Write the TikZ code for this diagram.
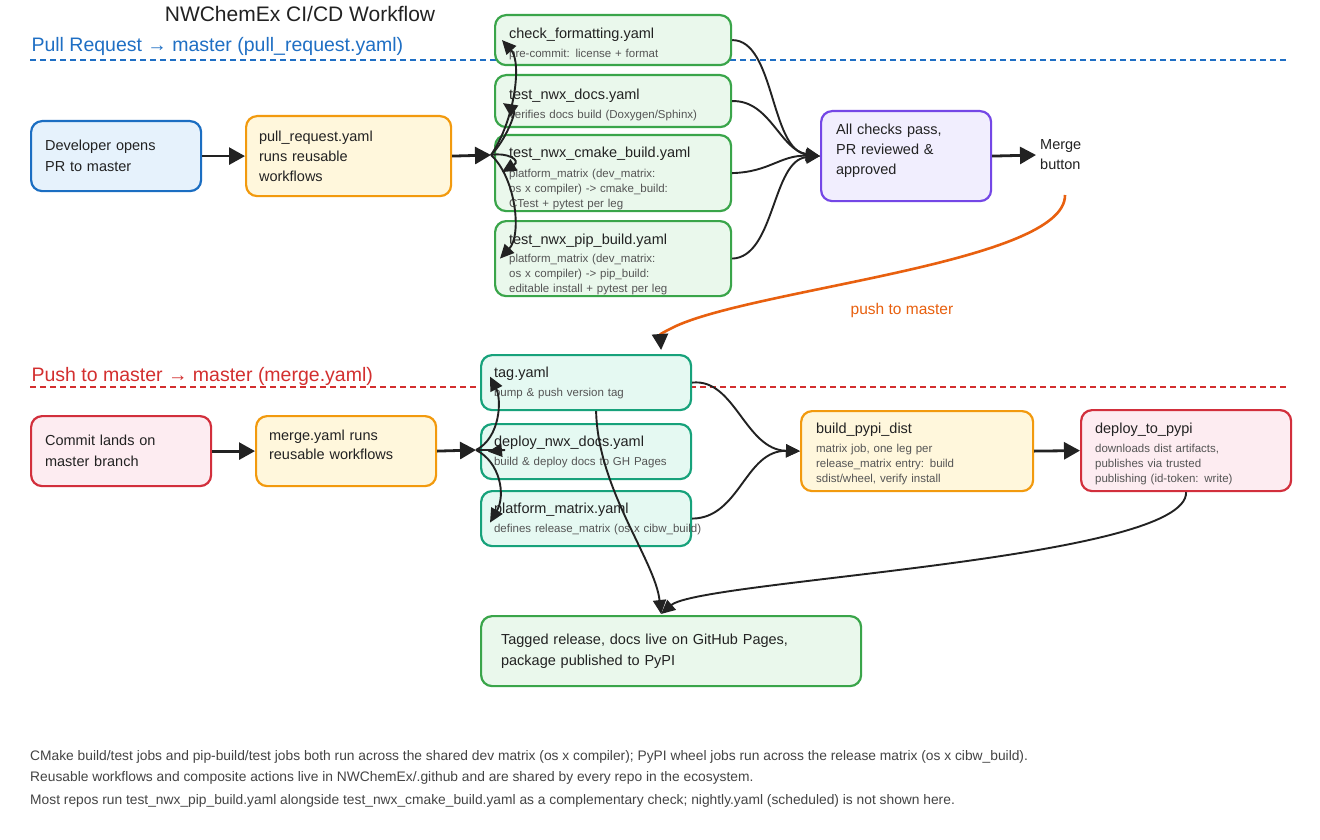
\documentclass[tikz,border=0pt]{standalone}
\usepackage{fontspec}
\setmainfont{Liberation Sans}
\usetikzlibrary{arrows.meta,calc}
\definecolor{ink}{HTML}{222222}
\definecolor{subg}{HTML}{555555}
\definecolor{footg}{HTML}{444444}
\definecolor{blueB}{HTML}{1B6EC2}
\definecolor{blueF}{HTML}{E6F2FC}
\definecolor{oranB}{HTML}{F29A0E}
\definecolor{yelF}{HTML}{FFF7DC}
\definecolor{greenB}{HTML}{3AA54A}
\definecolor{greenF}{HTML}{EAF8EC}
\definecolor{purpB}{HTML}{7447E6}
\definecolor{purpF}{HTML}{F1EEFE}
\definecolor{redB}{HTML}{D22F3C}
\definecolor{pinkF}{HTML}{FDECF1}
\definecolor{tealB}{HTML}{17A27B}
\definecolor{tealF}{HTML}{E5F9F2}
\definecolor{secBlue}{HTML}{1F6FC4}
\definecolor{secRed}{HTML}{D32F2F}
\definecolor{pushOr}{HTML}{E8600F}
\newcommand{\jobtitle}[2][0pt]{{\color{ink}\fontsize{14.5}{15}\selectfont\rule{0pt}{#1}#2}}
\newcommand{\lowpad}[1]{\rule[-#1]{0pt}{0pt}}
\tikzset{
  box/.style={draw, line width=2.2pt, rounded corners=11pt, anchor=north west,
    inner xsep=14pt, inner ysep=0pt, align=left,
    font=\fontsize{14.5}{21}\selectfont, text=ink},
  jobbox/.style={box, font=\fontsize{11.5}{15}\selectfont, text=subg},
  arr/.style={line width=2.8pt, draw=ink, -{Triangle[length=16pt,width=17pt]}},
  curv/.style={line width=1.9pt, draw=ink, -{Triangle[length=14pt,width=13pt]}},
  seclbl/.style={anchor=base west, font=\fontsize{19.5}{22}\selectfont},
  foot/.style={anchor=base west, font=\fontsize{13.8}{16}\selectfont, text=footg, inner sep=0pt},
}
\begin{document}
\begin{tikzpicture}[x=1pt,y=-1pt]
\useasboundingbox[fill=white] (0,0) rectangle (1320,840);

% title and section labels
\node[font=\fontsize{21}{24}\selectfont, text=ink] (title) at (300,14) {NWChemEx CI/CD Workflow};
\node[seclbl, text=secBlue] (secpr) at (28,52) {Pull Request → master (pull\_request.yaml)};
\node[seclbl, text=secRed] (secpush) at (28,381) {Push to master → master (merge.yaml)};
\draw[secBlue, line width=1.8pt, dash pattern=on 6pt off 4pt] (30,60) -- (1287,60);
\draw[secRed, line width=1.8pt, dash pattern=on 6pt off 4pt] (30,387) -- (1287,387);

% top row
\node[box, draw=blueB, fill=blueF, text width=142pt, minimum height=70pt] (dev) at (30,120)
  {Developer opens\\PR to master};
\node[box, draw=oranB, fill=yelF, minimum height=80pt, inner xsep=13pt, text width=179pt] (pr) at (245,115)
  {pull\_request.yaml\\[-1pt]runs reusable\\[-1pt]workflows};
\node[jobbox, draw=greenB, fill=greenF, text width=208pt, minimum height=50pt] (cf) at (494,14)
  {\jobtitle[19pt]{check\_formatting.yaml}\\[4pt]\mbox{pre-commit: license + format}};
\node[jobbox, draw=greenB, fill=greenF, text width=208pt, minimum height=52pt] (docs) at (494,74)
  {\jobtitle[18pt]{test\_nwx\_docs.yaml}\\[4pt]\mbox{verifies docs build (Doxygen/Sphinx)}};
\node[jobbox, draw=greenB, fill=greenF, text width=208pt, minimum height=76pt] (cmake) at (494,134)
  {\jobtitle[22pt]{test\_nwx\_cmake\_build.yaml}\\[5pt]\mbox{platform\_matrix (dev\_matrix:}\\\mbox{os x compiler) -> cmake\_build:}\\\mbox{CTest + pytest per leg}};
\node[jobbox, draw=greenB, fill=greenF, text width=208pt, minimum height=75pt] (pip) at (494,220)
  {\jobtitle[22pt]{test\_nwx\_pip\_build.yaml}\\[3pt]\mbox{platform\_matrix (dev\_matrix:}\\\mbox{os x compiler) -> pip\_build:}\\\mbox{editable install + pytest per leg}};
\node[box, draw=purpB, fill=purpF, text width=140pt, minimum height=90pt, inner xsep=15pt] (ac) at (820,110)
  {All checks pass,\\[-1pt]PR reviewed \&\\[-1pt]approved\lowpad{14pt}};
\node[anchor=west, align=left, inner sep=0pt, font=\fontsize{14.5}{20}\selectfont, text=ink] (mb) at (1040,155)
  {Merge\\button};

% bottom row
\node[box, draw=redB, fill=pinkF, text width=152pt, minimum height=70pt] (commit) at (30,415)
  {Commit lands on\\master branch};
\node[box, draw=oranB, fill=yelF, text width=154pt, minimum height=70pt, inner xsep=13pt] (mg) at (255,415)
  {merge.yaml runs\\[-2pt]reusable workflows\lowpad{13pt}};
\node[jobbox, draw=tealB, fill=tealF, text width=184pt, minimum height=55pt, inner xsep=13pt] (tag) at (480,354)
  {\jobtitle{tag.yaml}\\[4pt]\mbox{bump \& push version tag}};
\node[jobbox, draw=tealB, fill=tealF, text width=184pt, minimum height=55pt, inner xsep=13pt] (dd) at (480,423)
  {\jobtitle{deploy\_nwx\_docs.yaml}\\[4pt]\mbox{build \& deploy docs to GH Pages}};
\node[jobbox, draw=tealB, fill=tealF, text width=184pt, minimum height=55pt, inner xsep=13pt] (pm) at (480,490)
  {\jobtitle{platform\_matrix.yaml}\\[4pt]\mbox{defines release\_matrix (os x cibw\_build)}};
\node[jobbox, draw=oranB, fill=yelF, text width=202pt, minimum height=80pt, inner xsep=15pt] (bp) at (800,410)
  {\jobtitle[17pt]{build\_pypi\_dist}\\[4pt]\mbox{matrix job, one leg per}\\\mbox{release\_matrix entry: build}\\\mbox{sdist/wheel, verify install}};
\node[jobbox, draw=redB, fill=pinkF, text width=182pt, minimum height=81pt, inner xsep=14pt] (dp) at (1080,409)
  {\jobtitle[17pt]{deploy\_to\_pypi}\\[4pt]\mbox{downloads dist artifacts,}\\\mbox{publishes via trusted}\\\mbox{publishing (id-token: write)}};
\node[box, draw=greenB, fill=greenF, text width=340pt, minimum height=70pt, inner xsep=20pt] (fin) at (480,615)
  {Tagged release, docs live on GitHub Pages,\\package published to PyPI};

% footer
\node[foot] (f1) at (30,760) {CMake build/test jobs and pip-build/test jobs both run across the shared dev matrix (os x compiler); PyPI wheel jobs run across the release matrix (os x cibw\_build).};
\node[foot] (f2) at (30,781) {Reusable workflows and composite actions live in NWChemEx/.github and are shared by every repo in the ecosystem.};
\node[foot] (f3) at (30,804) {Most repos run test\_nwx\_pip\_build.yaml alongside test\_nwx\_cmake\_build.yaml as a complementary check; nightly.yaml (scheduled) is not shown here.};

% coordinates for connector free ends
\coordinate (fanT) at (491,155);
\coordinate (fanB) at (476,450);
\coordinate (mbout) at (1065,195);

% top connectors
\draw[arr] (dev.east) -- (pr.west);
\draw[arr] (pr.east) -- (fanT);
\draw[curv] (fanT) .. controls (515,120) and (522,62) .. ($(cf.west)+(8,0)$);
\draw[curv] (fanT) .. controls (506,140) and (516,112) .. ($(docs.west)+(9,2)$);
\draw[curv] (fanT) .. controls (506,152) and (522,160) .. ($(cmake.west)+(8,-1)$);
\draw[curv] (fanT) .. controls (516,178) and (522,235) .. ($(pip.west)+(6,0)$);
\draw[curv] (cf.east) .. controls (775,40) and (770,150) .. (ac.west);
\draw[curv] (docs.east) .. controls (770,100) and (780,150) .. (ac.west);
\draw[curv] (cmake.east) .. controls (770,172) and (780,155) .. (ac.west);
\draw[curv] (pip.east) .. controls (775,257) and (772,160) .. (ac.west);
\draw[arr] (ac.east) -- ($(mb.west)+(-4,0)$);
\draw[line width=2.6pt, draw=pushOr, -{Triangle[length=16pt,width=16pt,color=ink]}]
  (mbout) .. controls (1066,262) and (760,288) .. (676,326)
  .. controls (666,331) and (660,334) .. ($(tag.north)+(75,-4)$);
\node[font=\fontsize{15.5}{18}\selectfont, text=pushOr] (pushlbl) at (902,310) {push to master};

% bottom connectors
\draw[arr] (commit.east) -- (mg.west);
\draw[arr] (mg.east) -- (fanB);
\draw[curv] (fanB) .. controls (500,438) and (502,400) .. ($(tag.west)+(10,-6)$);
\draw[curv] (fanB) -- (505,450) -- ($(dd.west)+(8,0)$);
\draw[curv] (fanB) .. controls (500,462) and (506,495) .. ($(pm.west)+(10,4)$);
\draw[curv] (tag.east) .. controls (735,378) and (745,450) .. (bp.west);
\draw[curv] (pm.east) .. controls (740,518) and (745,450) .. (bp.west);
\draw[arr] (bp.east) -- (dp.west);
\draw[curv] ($(tag.south)+(10,0)$) .. controls (598,490) and (655,560) .. ($(fin.north)+(-10,-1)$);
\draw[curv] (dp.south) .. controls (1188,560) and (700,580) .. ($(fin.north)+(-10,-1)$);
\end{tikzpicture}
\end{document}
